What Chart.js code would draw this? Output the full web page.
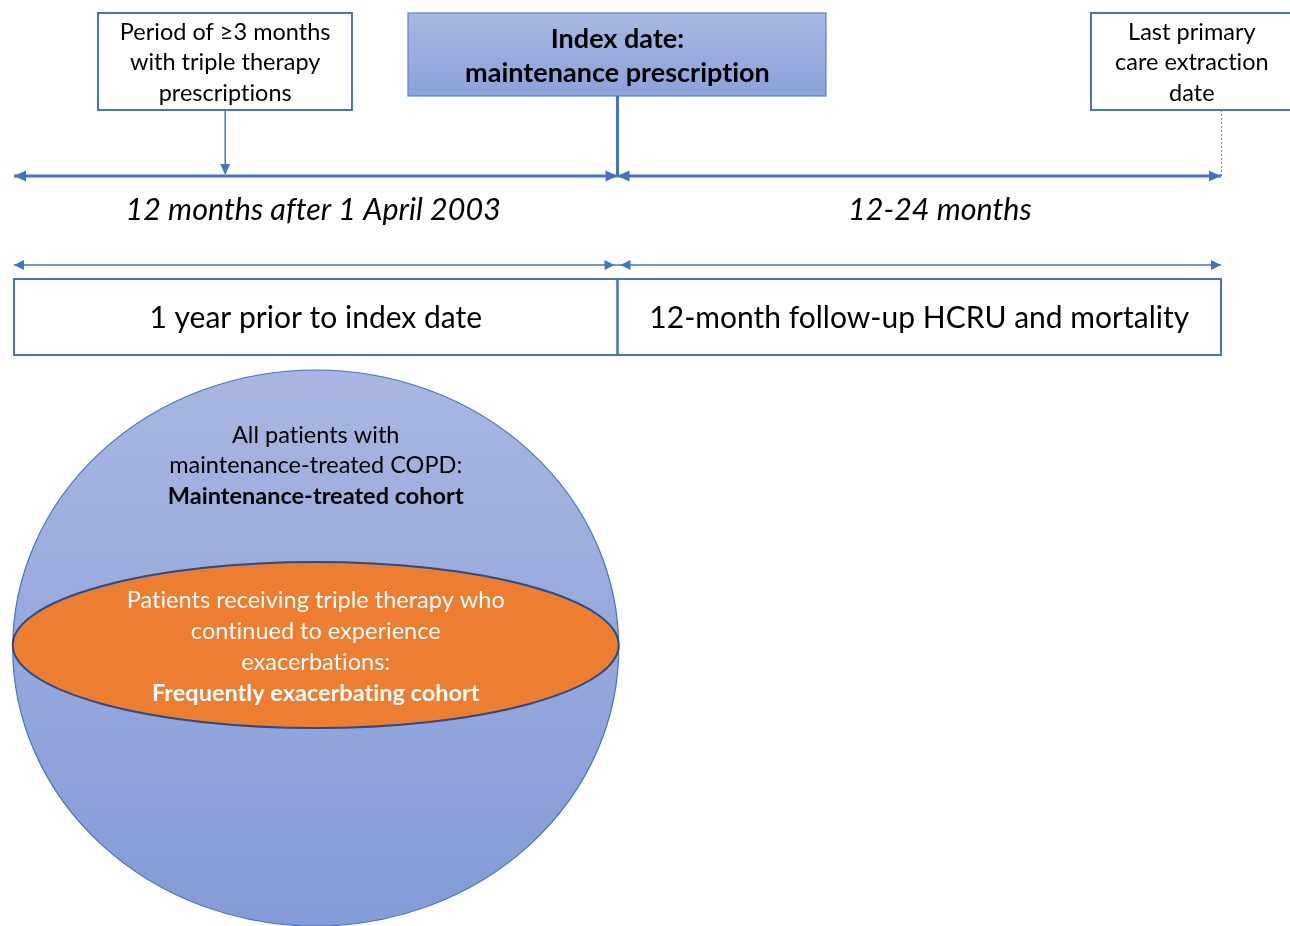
<!DOCTYPE html>
<html>
<head>
<meta charset="utf-8">
<script src="https://cdn.jsdelivr.net/npm/chart.js@4.4.0/dist/chart.umd.min.js"></script>
<style>
  html, body { margin: 0; padding: 0; background: #fff; }
  #wrap { width: 1290px; height: 926px; }
</style>
</head>
<body>
<div id="wrap"><canvas id="studyChart" width="1290" height="926"></canvas></div>
<script>
// study design: months relative to the index date
const periodNames = ['12 months after 1 April 2003', '12-24 months'];
const periodFrom = [-12, 0];
const periodTo = [0, 12];

const windowNames = ['1 year prior to index date', '12-month follow-up HCRU and mortality'];
const windowFrom = [-12, 0];
const windowTo = [0, 12];

const eventNames = [
    ['Period of \u22653 months', 'with triple therapy', 'prescriptions'],
    ['Index date:', 'maintenance prescription'],
    ['Last primary', 'care extraction', 'date']
];
const eventMonths = [-7.8, 0, 12];

const cohortNames = [
    ['All patients with', 'maintenance-treated COPD:', 'Maintenance-treated cohort'],
    ['Patients receiving triple therapy who', 'continued to experience', 'exacerbations:', 'Frequently exacerbating cohort']
];

// layout (x in months, y in rows of the page)
const layout = {
    xMin: -12.278, xMax: 13.372,
    eventBoxes: [
        { x0: -10.33, x1: -5.28, y0: 13, y1: 110, lines: [32, 62, 93], cx: -7.8 },
        { x0: -4.166, x1: 4.146, y0: 13, y1: 96, lines: [39, 73], cx: 0 },
        { x0: 9.415, x1: 13.7, y0: 13, y1: 110, lines: [32, 62, 93], cx: 11.42 }
    ],
    timelineY: 176,
    periodTextY: 210,
    periodTextX: [-6.05, 6.41],
    windowArrowY: 265,
    windowBox: { y0: 279, y1: 355, textY: 318 },
    cohort: { cx: -6.0, rx: 6.025, cy: 648, ry: 278, lines: [435, 465, 496] },
    sub: { cx: -6.0, rx: 6.025, cy: 645, ry: 83, lines: [600, 631, 662, 693] }
};

const BLUE = '#4472C4';
const FONT = 'Lato, "Open Sans", sans-serif';

function shaft(from, to, y, w) {
    return {
        data: [{ x: from, y: y }, { x: to, y: y }],
        borderColor: BLUE, borderWidth: w, pointRadius: 0, showLine: true, fill: false
    };
}

const datasets = [];
periodFrom.forEach((f, i) => datasets.push(shaft(f, periodTo[i], layout.timelineY, 3)));
windowFrom.forEach((f, i) => datasets.push(shaft(f, windowTo[i], layout.windowArrowY, 1.5)));

function arrowHead(ctx, tipX, tipY, dir, len, half) {
    // dir: 'l', 'r', 'd'
    ctx.beginPath();
    if (dir === 'l') {
        ctx.moveTo(tipX, tipY); ctx.lineTo(tipX + len, tipY - half); ctx.lineTo(tipX + len, tipY + half);
    } else if (dir === 'r') {
        ctx.moveTo(tipX, tipY); ctx.lineTo(tipX - len, tipY - half); ctx.lineTo(tipX - len, tipY + half);
    } else {
        ctx.moveTo(tipX, tipY); ctx.lineTo(tipX - half, tipY - len); ctx.lineTo(tipX + half, tipY - len);
    }
    ctx.closePath();
    ctx.fillStyle = BLUE;
    ctx.fill();
}

function ellipse(ctx, cx, cy, rx, ry) {
    ctx.beginPath();
    ctx.ellipse(cx, cy, rx, ry, 0, 0, Math.PI * 2);
}

const diagramPlugin = {
    id: 'diagram',
    beforeDatasetsDraw(chart) {
        const ctx = chart.ctx;
        const xs = chart.scales.x, ys = chart.scales.y;
        const X = v => xs.getPixelForValue(v);
        const Y = v => ys.getPixelForValue(v);
        ctx.save();

        // event boxes
        layout.eventBoxes.forEach((b, i) => {
            const l = X(b.x0), r = X(b.x1), t = Y(b.y0), bt = Y(b.y1);
            if (i === 1) {
                const g = ctx.createLinearGradient(0, t, 0, bt);
                g.addColorStop(0, '#A9B8E2');
                g.addColorStop(1, '#8AA1DA');
                ctx.fillStyle = g;
                ctx.fillRect(l, t, r - l, bt - t);
                ctx.lineWidth = 1.2;
                ctx.strokeStyle = '#5B84CF';
            } else {
                ctx.fillStyle = '#fff';
                ctx.fillRect(l, t, r - l, bt - t);
                ctx.lineWidth = 2;
                ctx.strokeStyle = BLUE;
            }
            ctx.strokeRect(l, t, r - l, bt - t);
        });

        // connectors
        const tl = Y(layout.timelineY);
        ctx.strokeStyle = BLUE;
        ctx.lineWidth = 1.5;
        ctx.beginPath();
        ctx.moveTo(X(eventMonths[0]), Y(layout.eventBoxes[0].y1));
        ctx.lineTo(X(eventMonths[0]), tl - 8);
        ctx.stroke();
        ctx.lineWidth = 3;
        ctx.beginPath();
        ctx.moveTo(X(eventMonths[1]), Y(layout.eventBoxes[1].y1));
        ctx.lineTo(X(eventMonths[1]), tl);
        ctx.stroke();
        ctx.lineWidth = 1;
        ctx.setLineDash([2, 2]);
        ctx.strokeStyle = '#6F8FCC';
        ctx.beginPath();
        ctx.moveTo(X(eventMonths[2]) + 0.5, Y(layout.eventBoxes[2].y1));
        ctx.lineTo(X(eventMonths[2]) + 0.5, tl);
        ctx.stroke();
        ctx.setLineDash([]);

        // window boxes
        const wb = layout.windowBox;
        ctx.lineWidth = 2;
        ctx.strokeStyle = BLUE;
        windowFrom.forEach((f, i) => {
            const l = X(f), r = X(windowTo[i]);
            ctx.strokeRect(l, Y(wb.y0), r - l, Y(wb.y1) - Y(wb.y0));
        });

        // cohort ellipses
        const c = layout.cohort;
        const ccx = X(c.cx), crx = X(c.cx + c.rx) - ccx;
        ellipse(ctx, ccx, Y(c.cy), crx, c.ry);
        const g2 = ctx.createLinearGradient(0, Y(c.cy - c.ry), 0, Y(c.cy + c.ry));
        g2.addColorStop(0, '#A8B6E1');
        g2.addColorStop(1, '#849BD8');
        ctx.fillStyle = g2;
        ctx.fill();
        ctx.lineWidth = 1.2;
        ctx.strokeStyle = BLUE;
        ctx.stroke();

        const s = layout.sub;
        const scx = X(s.cx), srx = X(s.cx + s.rx) - scx;
        ellipse(ctx, scx, Y(s.cy), srx, s.ry);
        ctx.fillStyle = '#ED7D31';
        ctx.fill();
        ctx.lineWidth = 2;
        ctx.strokeStyle = '#2B4A86';
        ctx.stroke();

        ctx.restore();
    },
    afterDatasetsDraw(chart) {
        const ctx = chart.ctx;
        const xs = chart.scales.x, ys = chart.scales.y;
        const X = v => xs.getPixelForValue(v);
        const Y = v => ys.getPixelForValue(v);
        ctx.save();

        // arrow heads on timeline
        const tl = Y(layout.timelineY);
        periodFrom.forEach((f, i) => {
            arrowHead(ctx, X(f), tl, 'l', 12, 5.5);
            arrowHead(ctx, X(periodTo[i]), tl, 'r', 12, 5.5);
        });
        arrowHead(ctx, X(eventMonths[0]), tl - 1, 'd', 11, 5);

        const wa = Y(layout.windowArrowY);
        windowFrom.forEach((f, i) => {
            arrowHead(ctx, X(f) + (i === 1 ? 3 : 0), wa, 'l', 10, 5);
            arrowHead(ctx, X(windowTo[i]) - (i === 0 ? 3 : 0), wa, 'r', 10, 5);
        });

        ctx.textAlign = 'center';
        ctx.textBaseline = 'middle';
        // tiny spacing keeps the "ti" ligature off
        if ('letterSpacing' in ctx) ctx.letterSpacing = '0.01px';

        // event labels
        eventNames.forEach((lines, i) => {
            const b = layout.eventBoxes[i];
            ctx.fillStyle = '#000';
            ctx.font = i === 1 ? 'bold 27px ' + FONT : '23.5px ' + FONT;
            lines.forEach((t, j) => ctx.fillText(t, X(b.cx), Y(b.lines[j])));
        });

        // period labels
        ctx.font = 'italic 30.5px ' + FONT;
        periodNames.forEach((t, i) => ctx.fillText(t, X(layout.periodTextX[i]), Y(layout.periodTextY)));

        // window labels
        ctx.font = '30px ' + FONT;
        windowNames.forEach((t, i) => ctx.fillText(t, X((windowFrom[i] + windowTo[i]) / 2), Y(layout.windowBox.textY)));

        // cohort labels
        const c = layout.cohort, s = layout.sub;
        cohortNames[0].forEach((t, j) => {
            ctx.font = (j === 2 ? 'bold ' : '') + '23.5px ' + FONT;
            ctx.fillStyle = '#000';
            ctx.fillText(t, X(c.cx), Y(c.lines[j]));
        });
        cohortNames[1].forEach((t, j) => {
            ctx.font = (j === 3 ? 'bold ' : '') + '23.5px ' + FONT;
            ctx.fillStyle = '#fff';
            ctx.fillText(t, X(s.cx), Y(s.lines[j]));
        });

        ctx.restore();
    }
};

new Chart(document.getElementById('studyChart'), {
    type: 'scatter',
    data: { datasets },
    options: {
        responsive: false,
        animation: false,
        layout: { padding: 0 },
        plugins: { legend: { display: false }, tooltip: { enabled: false } },
        scales: {
            x: { type: 'linear', display: false, min: layout.xMin, max: layout.xMax },
            y: { type: 'linear', display: false, min: 0, max: 926, reverse: true }
        }
    },
    plugins: [diagramPlugin]
});
</script>
</body>
</html>
